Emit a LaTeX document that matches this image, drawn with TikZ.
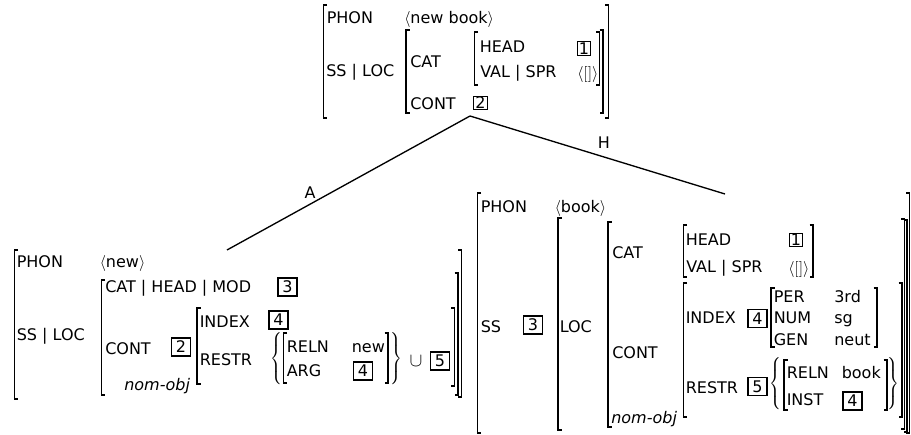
\documentclass[tikz,border=0pt]{standalone}
\usepackage{fontspec}
\setmainfont{DejaVu Sans}
\usepackage{graphicx}
\usepackage{tikz}
\usetikzlibrary{positioning}
\tikzset{
    % feature names and values
    feat/.style={
        anchor=base west,
        inner sep=0pt,
        font=\fontsize{12}{14}\selectfont
    },
    % boxed tags
    tag/.style={
        draw,
        line width=0.8pt,
        inner sep=0pt,
        minimum width=14.25pt,
        minimum height=13.5pt,
        font=\fontsize{12}{14}\selectfont
    },
    smalltag/.style={
        tag,
        minimum width=10pt,
        minimum height=10pt
    },
    % matrix brackets and braces
    bracket/.style={
        line width=0.8pt
    },
    setbrace/.style={
        inner sep=0pt,
        font=\fontsize{12}{14}\selectfont
    },
    % tree branches
    branch/.style={
        line width=1pt
    }
}
\newcommand{\avmL}[3]{\draw[bracket] (#1+3.5,#2) -- (#1,#2) -- (#1,#3) -- (#1+3.5,#3);}
\newcommand{\avmR}[3]{\draw[bracket] (#1-3.5,#2) -- (#1,#2) -- (#1,#3) -- (#1-3.5,#3);}
\newcommand{\setopen}{\scalebox{1}[1.1]{$\delimiterfactor=1000\delimitershortfall=0pt\left\{\vcenter{\hbox{\rule{0pt}{36pt}}}\right.\kern-\nulldelimiterspace$}}
\newcommand{\setclose}{\scalebox{1}[1.1]{$\delimiterfactor=1000\delimitershortfall=0pt\kern-\nulldelimiterspace\left.\vcenter{\hbox{\rule{0pt}{36pt}}}\right\}$}}

\begin{document}
\begin{tikzpicture}[x=0.75pt, y=-0.75pt]
    \useasboundingbox (0,0) rectangle (911,435);

    % Mother: new book
    \avmL{323.5}{5}{118}
    \node[feat] (mphon) at (326.5,24) {PHON};
    \node[feat] (mphonv) at (404,24) {$\langle$new book$\rangle$};
    \node[feat] (mss) at (326,77) {SS | LOC};
    \avmL{406}{30}{113}
    \node[feat] (mcat) at (410,68) {CAT};
    \node[feat] (mcont) at (410,110) {CONT};
    \node[smalltag] (mtagb) at (480.5,103) {2};
    \avmL{474.5}{32}{85}
    \node[feat] (mhead) at (479.5,53) {HEAD};
    \node[feat] (mval) at (480,78) {VAL | SPR};
    \node[smalltag] (mtaga) at (584,48.5) {1};
    \node[feat] (mspr) at (577,79) {$\langle[]\rangle$};
    \avmR{599.5}{32}{85}
    \avmR{603}{30}{113}
    \avmR{608.5}{5}{118}

    % Branches
    \coordinate (root) at (470,116);
    \coordinate (adj) at (227,250);
    \coordinate (hd) at (725,194);
    \draw[branch] (root) -- (adj);
    \draw[branch] (root) -- (hd);
    \node[feat, anchor=center] (lblA) at (310,193) {A};
    \node[feat, anchor=center] (lblH) at (604,143) {H};

    % Adjunct daughter: new
    \avmL{14.5}{250}{399}
    \node[feat] (aphon) at (16.5,267) {PHON};
    \node[feat] (aphonv) at (99.5,267) {$\langle$new$\rangle$};
    \node[feat] (ass) at (16.5,340) {SS | LOC};
    \avmL{101.5}{280}{395}
    \node[feat] (amod) at (105,292) {CAT | HEAD | MOD};
    \node[tag] (atagc) at (287.5,287) {3};
    \node[feat] (acont) at (105,354) {CONT};
    \node[tag] (atagb) at (181,347) {2};
    \node[feat] (atype) at (124,390) {\textit{nom-obj}};
    \avmL{197}{308}{384}
    \node[feat] (aindex) at (199.5,327) {INDEX};
    \node[tag] (atagd) at (278.5,320) {4};
    \node[feat] (arestr) at (199.5,365) {RESTR};
    \node[setbrace, anchor=west] (aopen) at (270.5,358.5) {\setopen};
    \avmL{283.5}{333}{383}
    \node[feat] (areln) at (286.5,352) {RELN};
    \node[feat] (arelnv) at (351.5,352) {new};
    \node[feat] (aarg) at (286.5,376) {ARG};
    \node[tag] (aargtag) at (363,371) {4};
    \avmR{388}{333}{383}
    \node[setbrace, anchor=east] (aclose) at (403,358.5) {\setclose};
    \node[setbrace, font=\fontsize{15}{17}\selectfont] (aunion) at (416,361) {$\cup$};
    \node[tag] (atage) at (440,361) {5};
    \avmR{454.5}{308}{386}
    \avmR{458}{273}{395}
    \avmR{461.5}{250}{397}

    % Head daughter: book
    \avmL{477.5}{193}{433}
    \node[feat] (hphon) at (480.5,212) {PHON};
    \node[feat] (hphonv) at (554.5,212) {$\langle$book$\rangle$};
    \node[feat] (hss) at (480.5,332) {SS};
    \node[tag] (htagc) at (533,325) {3};
    \avmL{558}{218}{430}
    \node[feat] (hloc) at (559.5,332) {LOC};
    \avmL{608}{222}{427}
    \node[feat] (hcat) at (612,258) {CAT};
    \node[feat] (hcont) at (612,358) {CONT};
    \node[feat] (htype) at (611,423) {\textit{nom-obj}};
    \avmL{683.5}{225}{277}
    \node[feat] (hhead) at (685.5,245) {HEAD};
    \node[feat] (hval) at (686,272) {VAL | SPR};
    \node[smalltag] (htaga) at (796,240) {1};
    \node[feat] (hspr) at (788,273) {$\langle[]\rangle$};
    \avmR{813}{225}{277}
    \avmL{683.5}{283}{417}
    \node[feat] (hindex) at (685.5,323) {INDEX};
    \node[tag] (htagd) at (757.5,318.5) {4};
    \avmL{771}{288}{347}
    \node[feat] (hper) at (773.5,302) {PER};
    \node[feat] (hperv) at (834,302) {3rd};
    \node[feat] (hnum) at (773.5,323) {NUM};
    \node[feat] (hnumv) at (834,323) {sg};
    \node[feat] (hgen) at (773.5,345) {GEN};
    \node[feat] (hgenv) at (834,345) {neut};
    \avmR{877}{288}{347}
    \node[feat] (hrestr) at (685.5,393) {RESTR};
    \node[tag] (htage) at (757.5,386.5) {5};
    \node[setbrace, anchor=west] (hopen) at (769,383.5) {\setopen};
    \avmL{784}{360}{410}
    \node[feat] (hreln) at (786.5,378) {RELN};
    \node[feat] (hrelnv) at (841.5,378) {book};
    \node[feat] (hinst) at (786.5,405) {INST};
    \node[tag] (hinsttag) at (852.5,401) {4};
    \avmR{887}{360}{410}
    \node[setbrace, anchor=east] (hclose) at (900,383.5) {\setclose};
    \avmR{902}{283}{417}
    \avmR{904.5}{219}{429}
    \avmR{907}{220}{432}
    \avmR{909.5}{193}{433}
\end{tikzpicture}
\end{document}
